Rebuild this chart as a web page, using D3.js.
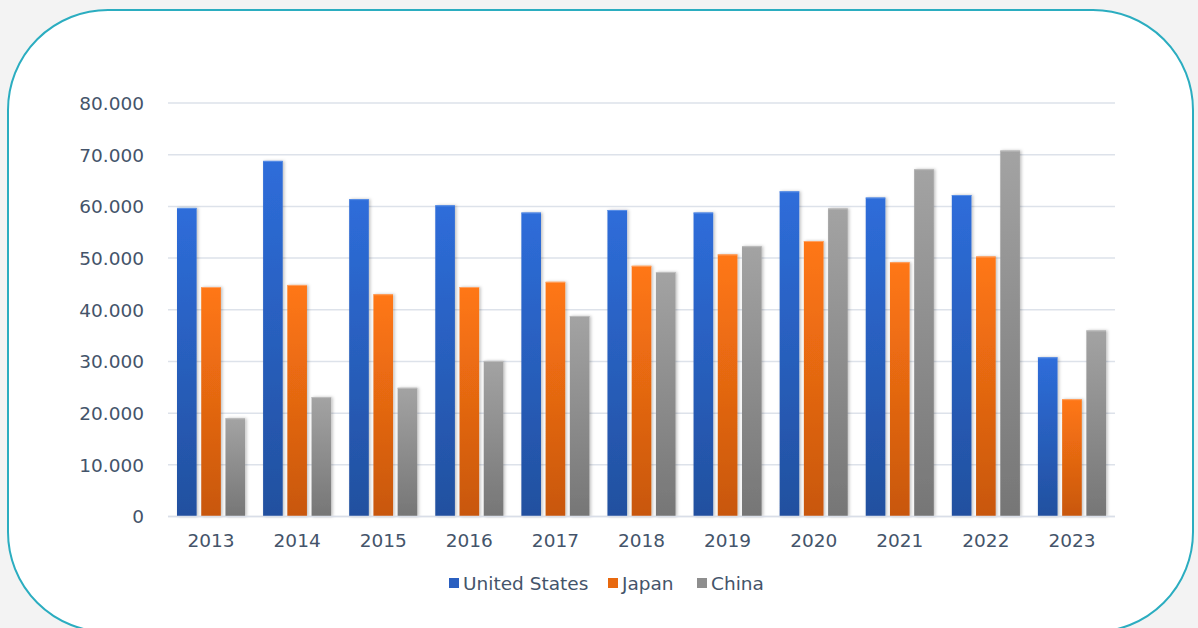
<!DOCTYPE html>
<html><head><meta charset="utf-8">
<script src="https://cdn.jsdelivr.net/npm/d3@7"></script>
<style>
html,body{margin:0;padding:0;background:#f3f3f3;}
svg{display:block;}
text{font-family:"DejaVu Sans",Verdana,sans-serif;fill:#44546A;}
</style></head>
<body>
<script>
const years = ["2013","2014","2015","2016","2017","2018","2019","2020","2021","2022","2023"];
const seriesNames = ["United States","Japan","China"];
const usValues = [59.7,68.8,61.4,60.2,58.8,59.3,58.8,62.9,61.7,62.2,30.8];
const japanValues = [44.4,44.8,43.0,44.4,45.4,48.5,50.7,53.3,49.2,50.3,22.7];
const chinaValues = [19.0,23.1,24.9,30.1,38.8,47.3,52.3,59.6,67.2,70.8,36.0];
const yTicks = [0,10,20,30,40,50,60,70,80];

const W=1198,H=628;
const FS="18.5px";
const svg=d3.select("body").append("svg").attr("width",W).attr("height",H);
const defs=svg.append("defs");
const grads=[["gUS","#2E6DDA","#22509F"],["gJP","#FF7714","#C8570E"],["gCN","#A3A3A3","#767676"]];
grads.forEach(([id,a,b])=>{
  const g=defs.append("linearGradient").attr("id",id).attr("x1",0).attr("y1",0).attr("x2",0).attr("y2",1);
  g.append("stop").attr("offset","0%").attr("stop-color",a);
  g.append("stop").attr("offset","100%").attr("stop-color",b);
});
const f=defs.append("filter").attr("id","sh").attr("x","-30%").attr("y","-10%").attr("width","160%").attr("height","120%");
f.append("feDropShadow").attr("dx",1.5).attr("dy",0).attr("stdDeviation",1.5).attr("flood-color","#000").attr("flood-opacity",0.25);

svg.append("rect").attr("x",8).attr("y",10).attr("width",1185).attr("height",622).attr("rx",100).attr("ry",100)
  .attr("fill","#fff").attr("stroke","#2BADC0").attr("stroke-width",2);

const x0=d3.scaleBand().domain(years).range([168,1115]).padding(0);
const x1=d3.scaleBand().domain(seriesNames).range([9,x0.bandwidth()-9]).paddingInner(0.19).paddingOuter(0);
const y=d3.scaleLinear().domain([0,80]).range([516.5,103]);

const grid=svg.append("g");
grid.selectAll("line").data(yTicks).join("line")
  .attr("x1",168).attr("x2",1115).attr("y1",d=>y(d)).attr("y2",d=>y(d))
  .attr("stroke","#DDE2EA").attr("stroke-width",1.5);

const yAxis=d3.axisLeft(y).tickValues(yTicks).tickSize(0).tickPadding(0)
  .tickFormat(d=>d===0?"0":d3.format(".3f")(d));
const ya=svg.append("g").attr("transform","translate(144,0)").call(yAxis);
ya.select(".domain").remove();
ya.selectAll("text").style("font-size",FS).attr("fill","#44546A").attr("dy","0.35em");

const seriesData=[usValues,japanValues,chinaValues];
const gradIds=["gUS","gJP","gCN"];
const topCols=["#5A8FE6","#FFA060","#BDBDBD"];
const groups=svg.append("g").selectAll("g").data(years).join("g")
  .attr("transform",d=>`translate(${x0(d)},0)`);
groups.selectAll("rect").data((d,i)=>seriesNames.map((s,k)=>({s,k,v:seriesData[k][i]}))).join("rect")
  .attr("x",d=>x1(d.s)).attr("width",x1.bandwidth())
  .attr("y",d=>y(d.v)).attr("height",d=>y(0)-y(d.v))
  .attr("fill",d=>`url(#${gradIds[d.k]})`).attr("filter","url(#sh)");
groups.selectAll("line.top").data((d,i)=>seriesNames.map((s,k)=>({s,k,v:seriesData[k][i]}))).join("line")
  .attr("class","top")
  .attr("x1",d=>x1(d.s)).attr("x2",d=>x1(d.s)+x1.bandwidth())
  .attr("y1",d=>y(d.v)+0.5).attr("y2",d=>y(d.v)+0.5)
  .attr("stroke",d=>topCols[d.k]).attr("stroke-width",1);

svg.append("line").attr("x1",168).attr("x2",1115).attr("y1",y(0)).attr("y2",y(0))
  .attr("stroke","#D9DEE8").attr("stroke-width",1.5);

const xAxis=d3.axisBottom(x0).tickSize(0).tickPadding(0);
const xa=svg.append("g").attr("transform","translate(0,541)").call(xAxis);
xa.select(".domain").remove();
xa.selectAll("text").style("font-size",FS).attr("fill","#44546A").attr("dy","0.35em");

const legendColors=["#2A5FC0","#E8690F","#8E8E8E"];
const legendX=[449,608,697];
const lg=svg.append("g");
seriesNames.forEach((s,i)=>{
  lg.append("rect").attr("x",legendX[i]).attr("y",578).attr("width",10).attr("height",10).attr("fill",legendColors[i]);
  lg.append("text").attr("x",legendX[i]+14).attr("y",584).attr("dy","0.35em").style("font-size",FS).text(s);
});
</script>
</body></html>
